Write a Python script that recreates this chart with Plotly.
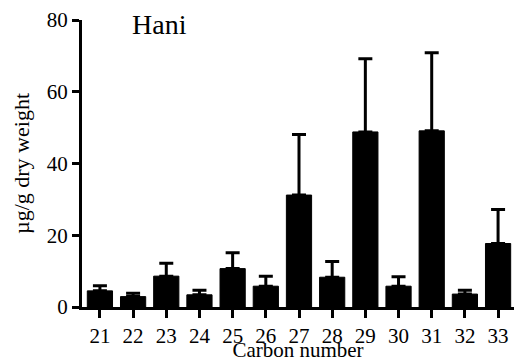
import plotly.graph_objects as go

# Mean alkane content per carbon chain length, with upper error bars
carbon = [21, 22, 23, 24, 25, 26, 27, 28, 29, 30, 31, 32, 33]
mean = [4.5, 2.9, 8.6, 3.4, 10.7, 5.8, 31.2, 8.3, 48.8, 5.8, 49.1, 3.6, 17.7]
err = [1.4, 0.9, 3.6, 1.3, 4.4, 2.8, 16.9, 4.4, 20.4, 2.6, 21.8, 1.1, 9.5]
y_ticks = [0, 20, 40, 60, 80]

FONT = "Liberation Serif"

fig = go.Figure(
    go.Bar(
        x=carbon,
        y=mean,
        width=0.76,
        marker_color="black",
        marker_line_color="black",
        marker_line_width=1,
        error_y=dict(
            type="data",
            symmetric=False,
            array=err,
            arrayminus=[0.0] * len(err),
            color="black",
            thickness=3,
            width=7,
        ),
    )
)

fig.add_annotation(
    text="Hani", x=0.18, xref="paper", y=0.985, yref="paper",
    showarrow=False, font=dict(family=FONT, size=28, color="black"),
    xanchor="center", yanchor="middle",
)

fig.update_layout(
    width=514, height=362,
    margin=dict(l=82, r=0, t=20, b=55),
    plot_bgcolor="white", paper_bgcolor="white",
    showlegend=False,
)
fig.update_xaxes(
    range=[20.46, 33.48],
    tickmode="array", tickvals=carbon,
    showline=True, linecolor="black", linewidth=3,
    ticks="outside", ticklen=8, tickwidth=3, tickcolor="black",
    showgrid=False, zeroline=False, automargin=False,
    tickfont=dict(family=FONT, size=21, color="black"),
    title_text="Carbon number",
    title_font=dict(family=FONT, size=21, color="black"),
    title_standoff=2,
)
fig.update_yaxes(
    range=[0, 80],
    tickmode="array", tickvals=y_ticks,
    showline=True, linecolor="black", linewidth=3,
    ticks="outside", ticklen=7, tickwidth=3, tickcolor="black",
    showgrid=False, zeroline=False, automargin=False,
    tickfont=dict(family=FONT, size=21, color="black"),
    title_text="\u00b5g/g dry weight",
    title_font=dict(family=FONT, size=22, color="black"),
    title_standoff=12,
)

fig.write_html("out.html")
